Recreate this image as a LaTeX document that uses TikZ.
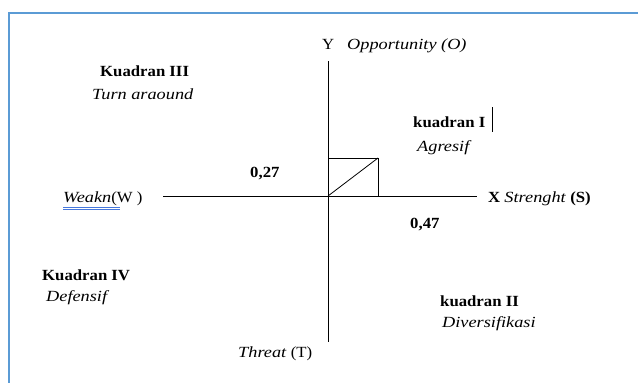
\documentclass[tikz,border=0pt]{standalone}
\usepackage{fontspec}
\setmainfont{Liberation Serif}[FakeStretch=1.08,
  BoldFeatures={FakeStretch=1.08},
  ItalicFeatures={FakeStretch=1.18},
  BoldItalicFeatures={FakeStretch=1.18}]
\definecolor{frameblue}{RGB}{91,155,213}
\definecolor{spellblue}{RGB}{70,120,220}
\begin{document}
\begin{tikzpicture}[x=1pt,y=-1pt,
  lbl/.style={anchor=base west,inner sep=0pt,font=\fontsize{15.5}{18}\selectfont},
  axis/.style={line width=1pt,black},
  boxline/.style={line width=0.8pt,black}]
\useasboundingbox (0,0) rectangle (638,383);
% frame
\coordinate (fb) at (9,383);
\coordinate (ft) at (9,13);
\coordinate (fr) at (638,13);
\draw[frameblue,line width=2.2pt] (fb) -- (ft) -- (fr);
% axes
\coordinate (ytop) at (328,61);
\coordinate (ybot) at (328,342);
\coordinate (xl) at (163,196);
\coordinate (xr) at (477,196);
\coordinate (o) at (328,196);
\draw[axis] (ytop) -- (ybot);
\draw[axis] (xl) -- (xr);
% small square
\coordinate (sq1) at (328,158);
\coordinate (sq2) at (378,158);
\coordinate (sq3) at (378,196);
\draw[boxline] (sq1) -- (sq2) -- (sq3);
\draw[boxline] (o) -- (sq2);
% labels
\node[lbl] (y) at (322,49) {Y};
\node[lbl] (opp) at (347,49) {\itshape Opportunity (O)};
\node[lbl] (k3) at (100,76) {\bfseries Kuadran III};
\node[lbl] (k3b) at (92,99) {\itshape Turn araound};
\node[lbl] (k1) at (413,127) {\bfseries kuadran I};
\coordinate (cur1) at (492,107);
\coordinate (cur2) at (492,132);
\draw[line width=0.6pt] (cur1) -- (cur2);
\node[lbl] (k1b) at (417,151) {\itshape Agresif};
\node[lbl] (v27) at (250,177) {\bfseries 0,27};
\node[lbl] (w) at (63,202) {\itshape Weakn\upshape(W )};
\coordinate (u1) at (63,207);
\coordinate (u2) at (120,207);
\coordinate (u3) at (63,209.5);
\coordinate (u4) at (120,209.5);
\draw[spellblue,line width=0.8pt] (u1) -- (u2) (u3) -- (u4);
\node[lbl] (s) at (488,202) {\bfseries X \mdseries\itshape Strenght \upshape\bfseries(S)};
\node[lbl] (v47) at (410,228) {\bfseries 0,47};
\node[lbl] (k4) at (42,280) {\bfseries Kuadran IV};
\node[lbl] (k4b) at (46,301) {\itshape Defensif};
\node[lbl] (k2) at (440,306) {\bfseries kuadran II};
\node[lbl] (k2b) at (442,327) {\itshape Diversifikasi};
\node[lbl] (t) at (238,357) {\itshape Threat \upshape(T)};
\end{tikzpicture}
\end{document}
